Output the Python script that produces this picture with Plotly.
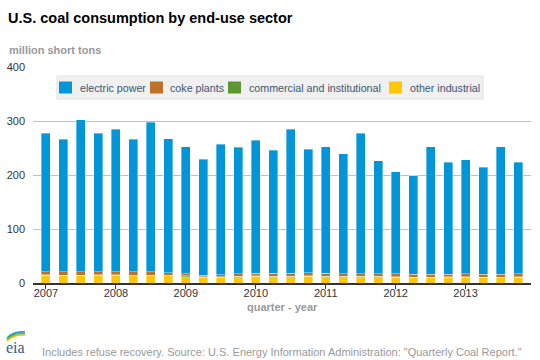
import plotly.graph_objects as go

quarters = [f"{y} Q{q}" for y in range(2007, 2014) for q in range(1, 5)]
year_labels = ["2007", "2008", "2009", "2010", "2011", "2012", "2013"]

other_industrial = [14.5, 14.0, 14.0, 14.5, 14.5, 13.8, 13.8, 13.5, 12.0, 10.8, 11.0, 12.0,
                    12.5, 12.0, 12.0, 12.5, 12.0, 11.5, 11.5, 11.5, 11.0, 10.5, 10.5, 11.0,
                    11.0, 10.5, 10.5, 11.0]
commercial = [1.0, 0.8, 0.8, 0.9, 1.0, 0.8, 0.8, 0.9, 1.0, 0.7, 0.7, 0.8,
              0.9, 0.7, 0.7, 0.8, 0.8, 0.6, 0.6, 0.7, 0.6, 0.4, 0.4, 0.6,
              0.6, 0.4, 0.4, 0.6]
coke_plants = [5.7, 5.7, 5.7, 5.7, 5.6, 5.8, 5.8, 5.0, 4.0, 3.3, 3.6, 4.3,
               5.0, 5.3, 5.4, 5.3, 5.3, 5.4, 5.5, 5.3, 5.3, 5.3, 5.2, 5.0,
               5.2, 5.4, 5.5, 5.4]
electric_power = [255.8, 245.5, 281.5, 255.9, 263.9, 245.6, 277.6, 247.6, 235.0, 214.2, 241.7, 233.9,
                  245.6, 228.0, 266.9, 229.4, 233.9, 221.5, 259.4, 208.5, 189.1, 182.8, 235.9, 207.4,
                  211.2, 197.7, 235.6, 207.0]

W, H = 540, 360
L, R, T, B = 33, 9, 67, 77
PW, PH = W - L - R, H - T - B


def px(x):
    return (x - L) / PW


def py(y):
    return (H - B - y) / PH


xs = list(range(len(quarters)))
series = [
    ("other industrial", other_industrial, "#ffc800"),
    ("commercial and institutional", commercial, "#5d9732"),
    ("coke plants", coke_plants, "#bc722a"),
    ("electric power", electric_power, "#0096d7"),
]

fig = go.Figure()
for name, vals, col in series:
    fig.add_trace(go.Bar(
        x=xs, y=vals, name=name, customdata=quarters,
        marker=dict(color=col, line=dict(color="rgba(255,255,255,0.6)", width=0.6)),
        showlegend=False,
    ))

FONT = "Liberation Sans, Arial, sans-serif"

fig.update_layout(
    width=W, height=H,
    margin=dict(l=L, r=R, t=T, b=B, pad=0, autoexpand=False),
    barmode="stack", bargap=0.485,
    paper_bgcolor="white", plot_bgcolor="white",
    font=dict(family=FONT, size=11, color="#333333"),
    title=dict(text="<b>U.S. coal consumption by end-use sector</b>",
               x=8 / W, xref="container", xanchor="left",
               y=1 - 18 / H, yref="container", yanchor="middle",
               font=dict(family=FONT, size=14.5, color="#000000")),
    xaxis=dict(range=[-0.74, 27.74], tickmode="array", automargin=False,
               tickvals=[0, 4, 8, 12, 16, 20, 24], ticktext=year_labels,
               showgrid=False, zeroline=False, showline=True,
               linecolor="#333333", linewidth=2,
               ticks="outside", ticklen=4, tickcolor="#333333", tickwidth=1,
               ticklabelstandoff=-5,
               tickfont=dict(size=11, color="#333333")),
    yaxis=dict(range=[0, 400], tickvals=[0, 100, 200, 300, 400], automargin=False,
               showgrid=True, gridcolor="#c0c0c0", gridwidth=1,
               zeroline=False, showline=False, ticks="",
               ticklabelstandoff=7,
               tickfont=dict(size=11, color="#333333")),
)

# axis titles / notes
fig.add_annotation(text="<b>million short tons</b>", xref="paper", yref="paper",
                   x=px(7), y=py(50), xanchor="left", yanchor="middle", showarrow=False,
                   font=dict(size=11, color="#999999"))
fig.add_annotation(text="<b>quarter - year</b>", xref="paper", yref="paper",
                   x=px(282), y=py(307), xanchor="center", yanchor="middle", showarrow=False,
                   font=dict(size=11, color="#999999"))
fig.add_annotation(text='Includes refuse recovery. Source: U.S. Energy Information Administration: "Quarterly Coal Report."',
                   xref="paper", yref="paper", x=px(40), y=py(352), xanchor="left", yanchor="middle",
                   showarrow=False, font=dict(size=11, color="#999999"))

# eia logo (text + swooshes)
fig.add_annotation(text="eia", xref="paper", yref="paper", x=px(15), y=py(347),
                   xanchor="center", yanchor="middle", showarrow=False,
                   font=dict(family="Liberation Serif, DejaVu Serif, serif", size=16, color="#3b5a8a"))
for i, col in enumerate(["#f5c400", "#7cb82f", "#1d9bd7"]):
    y0 = 341 - i * 1.5
    path = (f"M {px(7)},{py(y0)} Q {px(14)},{py(y0 - 7)} {px(25)},{py(y0 - 6)}")
    fig.add_shape(type="path", path=path, xref="paper", yref="paper",
                  line=dict(color=col, width=1.5))

# custom legend (box, swatches, labels)
fig.add_shape(type="rect", xref="paper", yref="paper",
              x0=px(57), x1=px(483), y0=py(76), y1=py(99),
              fillcolor="#f0f0f0", line=dict(color="#e2e2e2", width=1), layer="above")
legend_items = [
    ("electric power", "#0096d7", 59, 78),
    ("coke plants", "#bc722a", 150, 168),
    ("commercial and institutional", "#5d9732", 228, 247),
    ("other industrial", "#ffc800", 389, 408),
]
for name, col, sx, tx in legend_items:
    fig.add_shape(type="rect", xref="paper", yref="paper",
                  x0=px(sx), x1=px(sx + 13), y0=py(81.5), y1=py(93.5),
                  fillcolor=col, line=dict(width=0), layer="above")
    fig.add_annotation(text=name, xref="paper", yref="paper", x=px(tx), y=py(87.5),
                       xanchor="left", yanchor="middle", showarrow=False,
                       font=dict(size=10.7, color="#3e5570"))

# remove the browser's default 8px page margin so the figure fills the window
fig.write_html("out.html", config={"displayModeBar": False},
               post_script="document.body.style.margin='0';")
